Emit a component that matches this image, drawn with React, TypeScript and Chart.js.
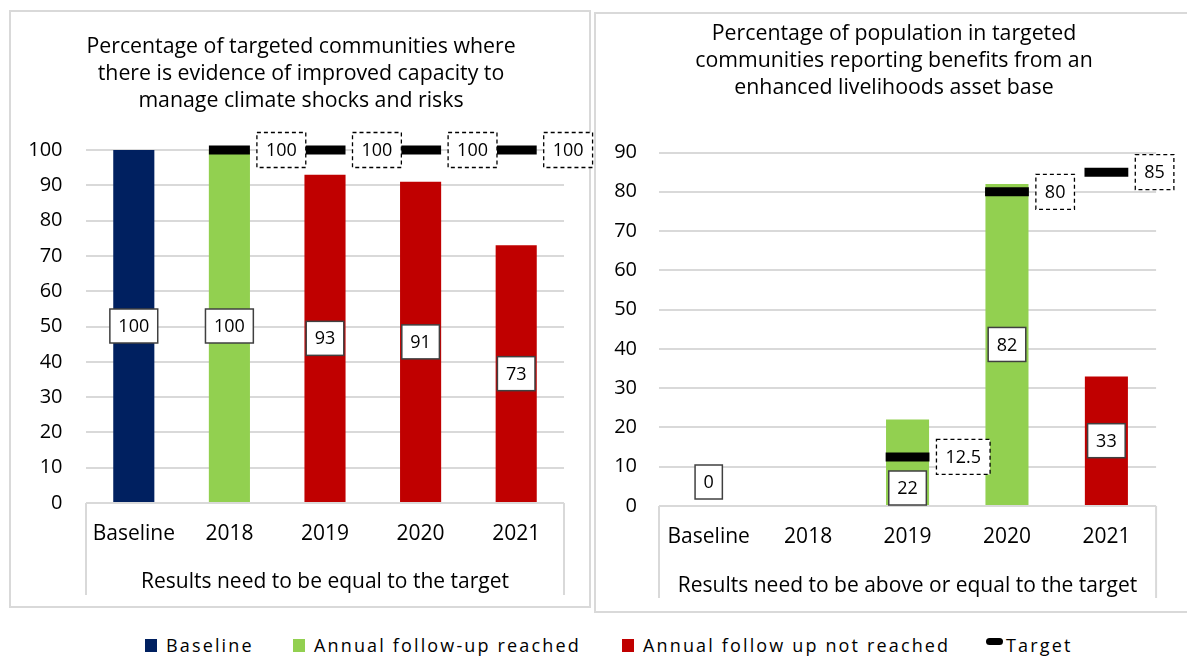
import React, { useEffect, useRef } from "react";
import { Chart, registerables } from "chart.js";

Chart.register(...registerables);

const FONT = "'Open Sans', 'DejaVu Sans', sans-serif";

const categories = ["Baseline", "2018", "2019", "2020", "2021"];

// Left chart
const leftTitle = [
  "Percentage of targeted communities where",
  "there is evidence of improved capacity to",
  "manage climate shocks and risks",
];
const leftBaseline = [100, null, null, null, null];
const leftReached = [null, 100, null, null, null];
const leftNotReached = [null, null, 93, 91, 73];
const leftTarget = [null, 100, 100, 100, 100];
const leftNote = "Results need to be equal to the target";
const leftMax = 100;

// Right chart
const rightTitle = [
  "Percentage of population in targeted",
  "communities reporting benefits from an",
  "enhanced livelihoods asset base",
];
const rightBaseline = [0, null, null, null, null];
const rightReached = [null, null, 22, 82, null];
const rightNotReached = [null, null, null, null, 33];
const rightTarget = [null, null, 12.5, 80, 85];
const rightNote = "Results need to be above or equal to the target";
const rightMax = 90;

const legendLabels = [
  "Baseline",
  "Annual follow-up reached",
  "Annual follow up not reached",
  "Target",
];
const COLORS = { baseline: "#002060", reached: "#92D050", notReached: "#C00000", target: "#000000" };

const decor = {
  id: "decor",
  afterDraw(chart: any, _args: any, opts: any) {
    const ctx = chart.ctx as CanvasRenderingContext2D;
    const ca = chart.chartArea;
    ctx.save();
    // Title
    ctx.fillStyle = "#000";
    ctx.textAlign = "center";
    ctx.textBaseline = "middle";
    ctx.font = `${opts.titleSize}px ${FONT}`;
    (opts.titleLines as string[]).forEach((t, i) => {
      ctx.fillText(t, opts.titleX, opts.titleY + i * opts.titleLH);
    });
    // Category box side lines
    ctx.strokeStyle = "#d9d9d9";
    ctx.lineWidth = 2;
    ctx.beginPath();
    ctx.moveTo(ca.left, ca.bottom);
    ctx.lineTo(ca.left, opts.boxBottom);
    ctx.moveTo(ca.right, ca.bottom);
    ctx.lineTo(ca.right, opts.boxBottom);
    ctx.stroke();

    ctx.font = `18px ${FONT}`;
    const modes: string[] = opts.labelModes;
    chart.data.datasets.forEach((ds: any, di: number) => {
      const meta = chart.getDatasetMeta(di);
      ds.data.forEach((v: any, i: number) => {
        if (v === null || v === undefined) return;
        const el: any = meta.data[i];
        if (!el) return;
        const text = String(v);
        const tw = ctx.measureText(text).width;
        if (ds.type === "line") {
          const w = tw + 18;
          const h = 35;
          const x0 = el.x + opts.halfBar + 7;
          const y0 = el.y - h / 2;
          ctx.fillStyle = "#fff";
          ctx.fillRect(x0, y0, w, h);
          ctx.setLineDash([4, 3]);
          ctx.strokeStyle = "#000";
          ctx.lineWidth = 1.3;
          ctx.strokeRect(x0, y0, w, h);
          ctx.setLineDash([]);
          ctx.fillStyle = "#000";
          ctx.fillText(text, x0 + w / 2, el.y + 1);
        } else {
          const w = tw + 17;
          const h = 34;
          const mode = modes[i] || "center";
          let cy = (el.y + el.base) / 2;
          if (mode === "base") cy = el.base - h / 2;
          if (mode === "above") cy = el.y - 7 - h / 2;
          const x0 = el.x - w / 2;
          const y0 = cy - h / 2;
          ctx.fillStyle = "#fff";
          ctx.fillRect(x0, y0, w, h);
          ctx.strokeStyle = "#404040";
          ctx.lineWidth = 1.5;
          ctx.strokeRect(x0, y0, w, h);
          ctx.fillStyle = "#000";
          ctx.fillText(text, el.x, cy + 1);
        }
      });
    });
    ctx.restore();
  },
};

type Params = {
  baseline: (number | null)[];
  reached: (number | null)[];
  notReached: (number | null)[];
  target: (number | null)[];
  note: string;
  max: number;
  half: number;
  catPct: number;
  padTop: number;
  padRight: number;
  padBottom: number;
  yWidth: number;
  yPad: number;
  xPad: number;
  noteTop: number;
  decor: any;
};

function makeConfig(p: Params): any {
  return {
    type: "bar",
    data: {
      labels: categories,
      datasets: [
        {
          type: "line",
          label: legendLabels[3],
          data: p.target,
          showLine: false,
          pointStyle: "line",
          pointRadius: p.half,
          pointHoverRadius: p.half,
          pointBorderWidth: 9,
          pointHoverBorderWidth: 9,
          borderColor: COLORS.target,
          backgroundColor: COLORS.target,
          clip: false,
          order: 0,
        },
        { label: legendLabels[0], data: p.baseline, backgroundColor: COLORS.baseline, order: 1 },
        { label: legendLabels[1], data: p.reached, backgroundColor: COLORS.reached, order: 1 },
        { label: legendLabels[2], data: p.notReached, backgroundColor: COLORS.notReached, order: 1 },
      ],
    },
    options: {
      responsive: false,
      animation: false,
      devicePixelRatio: 1,
      layout: { padding: { top: p.padTop, right: p.padRight, bottom: p.padBottom, left: 0 } },
      datasets: { bar: { grouped: false, categoryPercentage: p.catPct, barPercentage: 1 } },
      plugins: {
        legend: { display: false },
        tooltip: { enabled: false },
        title: { display: false },
        decor: p.decor,
      },
      scales: {
        x: {
          grid: { display: false, drawTicks: false, tickLength: 0 },
          border: { display: false },
          ticks: { padding: p.xPad, color: "#000", font: { family: FONT, size: 21 } },
          title: {
            display: true,
            text: p.note,
            color: "#000",
            font: { family: FONT, size: 21 },
            padding: { top: p.noteTop, bottom: 0 },
          },
        },
        y: {
          min: 0,
          max: p.max,
          ticks: { stepSize: 10, padding: p.yPad, color: "#000", font: { family: FONT, size: 20 } },
          grid: { color: "#d9d9d9", lineWidth: 2, drawTicks: false, tickLength: 0 },
          border: { display: false },
          afterFit(s: any) {
            s.width = p.yWidth;
          },
        },
      },
    },
    plugins: [decor],
  };
}

function ChartCanvas({ cfg, width, height, style }: { cfg: any; width: number; height: number; style: any }) {
  const ref = useRef<HTMLCanvasElement | null>(null);
  useEffect(() => {
    if (!ref.current) return;
    const chart = new Chart(ref.current, cfg);
    return () => chart.destroy();
  }, []);
  return <canvas ref={ref} width={width} height={height} style={{ position: "absolute", width, height, ...style }} />;
}

export default function App() {
  const leftCfg = makeConfig({
    baseline: leftBaseline,
    reached: leftReached,
    notReached: leftNotReached,
    target: leftTarget,
    note: leftNote,
    max: leftMax,
    half: 20.5,
    catPct: 0.43,
    padTop: 140,
    padRight: 31,
    padBottom: 13.4,
    yWidth: 77,
    yPad: 23.5,
    xPad: 18.4,
    noteTop: 4.4,
    decor: {
      titleLines: leftTitle,
      titleX: 292,
      titleY: 37,
      titleLH: 27,
      titleSize: 21.3,
      boxBottom: 585,
      halfBar: 20.5,
      labelModes: ["center", "center", "center", "center", "center"],
    },
  });
  const rightCfg = makeConfig({
    baseline: rightBaseline,
    reached: rightReached,
    notReached: rightNotReached,
    target: rightTarget,
    note: rightNote,
    max: rightMax,
    half: 21.9,
    catPct: 0.433,
    padTop: 140.5,
    padRight: 23,
    padBottom: 14.4,
    yWidth: 65,
    yPad: 22,
    xPad: 18.4,
    noteTop: 5.4,
    decor: {
      titleLines: rightTitle,
      titleX: 300,
      titleY: 22,
      titleLH: 27,
      titleSize: 21.3,
      boxBottom: 586,
      halfBar: 21.9,
      labelModes: ["above", "center", "base", "center", "center"],
    },
  });

  const legendColors = [COLORS.baseline, COLORS.reached, COLORS.notReached, COLORS.target];
  const legendLefts = [145, 293, 622, 986];

  return (
    <div
      style={{
        position: "fixed",
        left: 0,
        top: 0,
        width: 1187,
        height: 657,
        background: "#fff",
        overflow: "hidden",
        fontFamily: FONT,
      }}
    >
      <div
        style={{
          position: "absolute",
          left: 9,
          top: 10,
          width: 582,
          height: 598,
          border: "2px solid #d9d9d9",
          boxSizing: "border-box",
        }}
      />
      <div
        style={{
          position: "absolute",
          left: 594,
          top: 12,
          width: 600,
          height: 601,
          border: "2px solid #d9d9d9",
          boxSizing: "border-box",
        }}
      />
      <ChartCanvas cfg={leftCfg} width={586} height={598} style={{ left: 9, top: 10 }} />
      <ChartCanvas cfg={rightCfg} width={593} height={601} style={{ left: 594, top: 12 }} />
      {legendLabels.map((lab, i) => (
        <div
          key={lab}
          style={{
            position: "absolute",
            left: legendLefts[i],
            top: 634,
            height: 22,
            display: "flex",
            alignItems: "center",
            fontSize: 18,
            letterSpacing: "2.15px",
            color: "#000",
            whiteSpace: "nowrap",
          }}
        >
          {i < 3 ? (
            <span style={{ display: "inline-block", width: 12, height: 13, background: legendColors[i], marginRight: 9 }} />
          ) : (
            <span
              style={{
                display: "inline-block",
                width: 17,
                height: 7,
                borderRadius: 3.5,
                background: legendColors[i],
                marginRight: 3,
                transform: "translateY(-4px)",
              }}
            />
          )}
          <span style={{ lineHeight: "22px" }}>{lab}</span>
        </div>
      ))}
    </div>
  );
}
